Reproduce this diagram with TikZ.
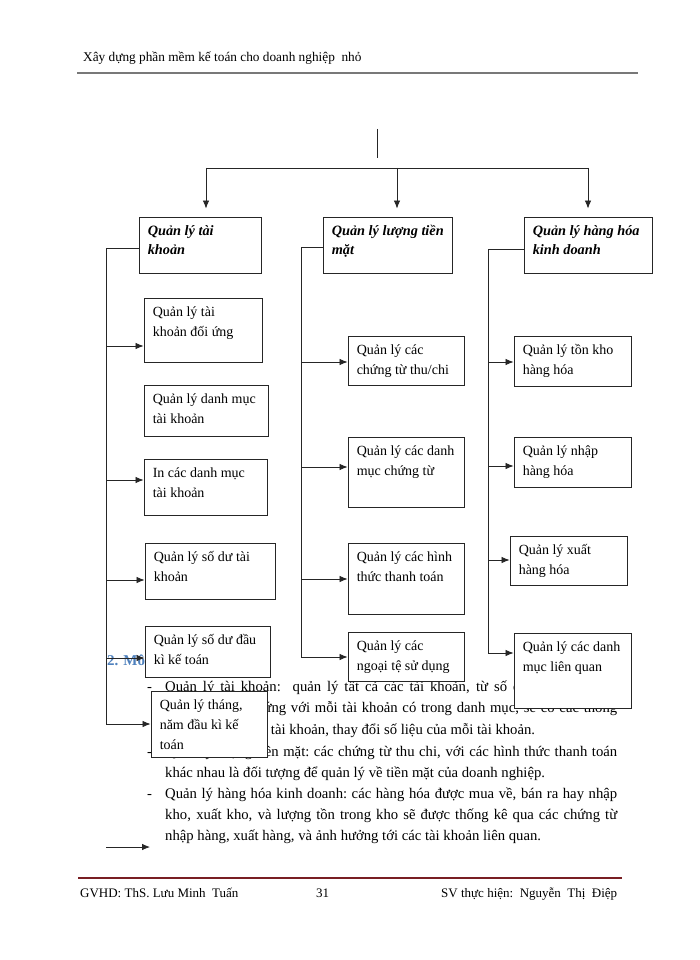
\documentclass[tikz,border=0pt]{standalone}
\usepackage{fontspec}
\setmainfont{Liberation Serif}
\usetikzlibrary{arrows.meta,fit,calc}
\definecolor{hdrgray}{RGB}{120,120,120}
\definecolor{ftrred}{RGB}{120,30,35}
\definecolor{headblue}{RGB}{79,129,189}
\tikzset{
  box/.style={draw=black!85, line width=0.9pt, fill=white, inner sep=0pt},
  btxt/.style={anchor=north west, inner sep=0pt, align=left, font=\fontsize{14}{20}\selectfont},
  ttxt/.style={btxt, font=\fontsize{14.3}{19}\selectfont\bfseries\itshape},
  arr/.style={draw=black!85, line width=0.8pt, -{Latex[length=8pt,width=6.5pt]}},
  ln/.style={draw=black!85, line width=0.8pt},
  body/.style={anchor=base west, inner sep=0pt, font=\fontsize{14.7}{17}\selectfont},
  small/.style={anchor=base west, inner sep=0pt, font=\fontsize{13}{15}\selectfont},
}
\newcommand\bx[6]{%
  \node[box, fit={(#2,-#3) (#4,-#5)}] (#1) {};
  \node[btxt] (#1t) at ([xshift=9pt,yshift=-6pt]#1.north west) {\rule{0pt}{13pt}#6};}
\newcommand\tbx[6]{%
  \node[box, fit={(#2,-#3) (#4,-#5)}] (#1) {};
  \node[ttxt] (#1t) at ([xshift=9pt,yshift=-6pt]#1.north west) {\rule{0pt}{13pt}#6};}
\newcommand\harr[3]{\draw[arr] (#1 |- 0,-#3) -- (#2.west |- 0,-#3);}
\begin{document}
\begin{tikzpicture}[x=1pt,y=1pt]
\useasboundingbox[fill=white] (0,0) rectangle (700,-960);

% header
\node[small, font=\fontsize{13.3}{15}\selectfont] (hdr) at (83,-62) {Xây dựng phần mềm kế toán cho doanh nghiệp\ \ nhỏ};
\coordinate (hrL) at (77,-73);
\coordinate (hrR) at (638,-73);
\draw[hdrgray, line width=2.4pt] (hrL) -- (hrR);

% footer
\coordinate (frL) at (78,-878);
\coordinate (frR) at (622,-878);
\draw[ftrred, line width=2.4pt] (frL) -- (frR);
\node[small] (f1) at (80,-897) {GVHD: ThS. Lưu Minh\ \ Tuấn};
\node[small] (f2) at (316,-897) {31};
\node[small] (f3) at (441,-897) {SV thực hiện:\ \ Nguyễn\ \ Thị\ \ Điệp};

% body text (drawn first, boxes cover parts of it)
\node[anchor=base west, inner sep=0pt, font=\fontsize{15}{18}\selectfont\bfseries, text=headblue] (hd) at (107,-665) {2. Mô tả};
\node[body] (d1) at (147,-691) {-};
\node[body] (p1) at (165,-691) {\makebox[452pt][s]{Quản lý tài khoản:\ \ quản lý tất cả các tài khoản, từ số dư đầu kì, số dư}};
\node[body] (p2) at (165,-712) {\makebox[452pt][s]{phát sinh tương ứng với mỗi tài khoản có trong danh mục, sẽ có các thông}};
\node[body] (p3) at (165,-734) {tin và số liệu trên tài khoản,\ thay đổi số liệu của mỗi tài khoản.};
\node[body] (d4) at (147,-756) {-};
\node[body] (p4) at (165,-756) {\makebox[452pt][s]{Quản lý lượng tiền mặt:\ các chứng từ thu chi, với các hình thức thanh toán}};
\node[body] (p5) at (165,-777) {khác nhau\ là đối tượng để quản lý về tiền mặt của doanh nghiệp.};
\node[body] (d6) at (147,-798) {-};
\node[body] (p6) at (165,-798) {\makebox[452pt][s]{Quản lý hàng hóa kinh doanh:\ các hàng hóa được mua về, bán ra hay nhập}};
\node[body] (p7) at (165,-819) {\makebox[452pt][s]{kho, xuất kho, và lượng tồn trong kho sẽ được thống kê qua các chứng từ}};
\node[body] (p8) at (165,-840) {nhập hàng, xuất hàng, và ảnh hưởng tới các tài khoản liên quan.};

% top connector
\coordinate (top1) at (377,-129);
\coordinate (top2) at (377,-158);
\draw[ln] (top1) -- (top2);
\coordinate (busL) at (206,-168);
\coordinate (busM) at (397,-168);
\coordinate (busR) at (588,-168);
\draw[ln] (busL) -- (busR);

% title boxes
\tbx{T1}{139}{217}{261}{273}{Quản lý tài\\khoản}
\tbx{T2}{323}{217}{452}{273}{Quản lý lượng tiền\\mặt}
\tbx{T3}{524}{217}{652}{273}{Quản lý hàng hóa\\kinh doanh}
\draw[arr] (busL) -- ($(busL |- T1.north)+(0,8)$);
\draw[arr] (busM) -- ($(busM |- T2.north)+(0,8)$);
\draw[arr] (busR) -- ($(busR |- T3.north)+(0,8)$);

% left column
\bx{L1}{144}{298}{262}{362}{Quản lý tài\\khoản đối ứng}
\bx{L2}{144}{385}{268}{436}{Quản lý danh mục\\tài khoản}
\bx{L3}{144}{459}{267}{515}{In các danh mục\\tài khoản}
\bx{L4}{145}{543}{275}{599}{Quản lý số dư tài\\khoản}
\coordinate (sL0) at (106,-248);
\coordinate (sL1) at (106,-724);
\draw[ln] (T1.west |- sL0) -- (sL0) -- (sL1);
\harr{sL0}{L1}{346}
\harr{sL0}{L3}{480}
\harr{sL0}{L4}{580}
\bx{L5}{145}{626}{270}{677}{Quản lý số dư đầu\\kì kế toán}
\harr{sL0}{L5}{658}
\bx{L6}{151}{691}{267}{757}{Quản lý tháng,\\năm đầu kì kế\\toán}
\harr{sL0}{L6}{724}
\coordinate (la1) at (106,-847);
\coordinate (la2) at (150,-847);
\draw[arr] (la1) -- (la2);

% middle column
\bx{M1}{348}{336}{464}{385}{Quản lý các\\chứng từ thu/chi}
\bx{M2}{348}{437}{464}{507}{Quản lý các danh\\mục chứng từ}
\bx{M3}{348}{543}{464}{614}{Quản lý các hình\\thức thanh toán}
\bx{M4}{348}{632}{464}{681}{Quản lý các\\ngoại tệ sử dụng}
\coordinate (sM0) at (301,-247);
\coordinate (sM1) at (301,-657);
\draw[ln] (T2.west |- sM0) -- (sM0) -- (sM1);
\harr{sM0}{M1}{362}
\harr{sM0}{M2}{467}
\harr{sM0}{M3}{579}
\harr{sM0}{M4}{657}

% right column
\bx{R1}{514}{336}{631}{386}{Quản lý tồn kho\\hàng hóa}
\bx{R2}{514}{437}{631}{487}{Quản lý nhập\\hàng hóa}
\bx{R3}{510}{536}{627}{585}{Quản lý xuất\\hàng hóa}
\bx{R4}{514}{633}{631}{708}{Quản lý các danh\\mục liên quan}
\coordinate (sR0) at (488,-249);
\coordinate (sR1) at (488,-653);
\draw[ln] (T3.west |- sR0) -- (sR0) -- (sR1);
\harr{sR0}{R1}{362}
\harr{sR0}{R2}{466}
\harr{sR0}{R3}{560}
\harr{sR0}{R4}{653}
\end{tikzpicture}
\end{document}
